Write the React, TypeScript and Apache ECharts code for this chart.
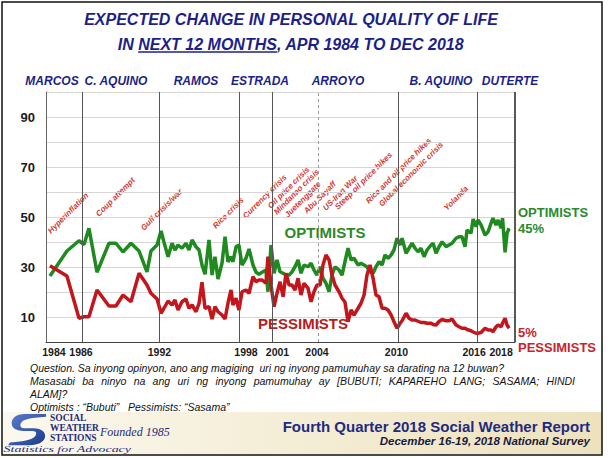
import React, { useEffect, useRef } from "react";
import * as echarts from "echarts";

// Survey dates (decimal years) and percentages
const surveyDates = [
  1984.30, 1985.58, 1986.49, 1986.87, 1987.24, 1987.85, 1988.75, 1989.28, 1989.81, 1990.41, 1991.02, 1991.62, 1991.92, 1992.38, 1992.68,
  1992.90, 1993.21, 1993.51, 1993.73, 1993.96, 1994.26, 1994.56, 1994.79, 1995.02, 1995.32, 1995.55, 1995.77, 1996.00, 1996.30, 1996.53, 1996.75, 1996.98, 1997.28, 1997.51, 1997.73, 1997.96, 1998.11, 1998.34, 1998.56, 1998.79, 1999.09, 1999.32, 1999.62, 1999.85, 2000.07, 2000.30, 2000.60, 2000.75, 2000.98, 2001.21, 2001.43, 2001.66,
  2001.89, 2002.11, 2002.34, 2002.56, 2002.79, 2003.02, 2003.24, 2003.47, 2003.77, 2004.00, 2004.22, 2004.45, 2004.68, 2004.90, 2005.13, 2005.36, 2005.58, 2005.81, 2006.11, 2006.34, 2006.56, 2006.79, 2007.02, 2007.24, 2007.55, 2007.77, 2008.00, 2008.22, 2008.45, 2008.68, 2008.90, 2009.13, 2009.36, 2009.58, 2009.81, 2010.04, 2010.26, 2010.49,
  2010.72, 2010.87, 2011.17, 2011.39, 2011.62, 2011.85, 2012.07, 2012.30, 2012.53, 2012.75, 2013.06, 2013.21, 2013.43, 2013.66, 2013.89, 2014.19, 2014.41, 2014.64, 2014.94, 2015.17, 2015.39, 2015.62, 2015.77, 2016.07, 2016.23, 2016.45, 2016.60, 2016.83, 2017.13, 2017.36, 2017.58, 2017.73, 2017.96, 2018.11, 2018.34, 2018.45, 2018.64, 2018.79, 2018.94,
];

const optimists = [
  26.4, 36.4, 40.5, 39.0, 45.5, 27.9, 39.5, 39.5, 36.0, 39.5, 36.4, 28.0, 36.4, 38.8, 44.4,
  40.0, 34.1, 39.5, 36.8, 38.8, 37.5, 39.5, 36.8, 40.8, 38.1, 36.8, 30.8, 27.1, 40.8, 26.8, 34.1, 25.2, 31.5, 42.1, 32.1, 34.1, 32.1, 38.1, 38.8, 30.8, 33.5, 37.2, 30.8, 27.9, 27.1, 27.9, 28.8, 20.1, 38.8, 27.5, 32.8, 28.1,
  27.5, 26.8, 26.8, 28.0, 30.1, 32.8, 27.5, 30.8, 30.1, 31.5, 28.8, 26.8, 30.1, 25.5, 23.5, 20.1, 26.8, 30.1, 28.8, 26.8, 32.1, 37.5, 32.8, 33.5, 30.8, 31.5, 30.8, 30.1, 28.1, 27.5, 30.1, 32.1, 30.8, 34.8, 33.5, 34.8, 36.8, 41.5,
  38.8, 41.5, 35.5, 37.5, 39.5, 37.5, 36.1, 37.5, 34.1, 36.8, 38.8, 39.5, 35.5, 38.1, 40.1, 38.1, 38.8, 39.5, 41.5, 42.1, 42.1, 38.1, 44.8, 43.5, 49.2, 46.1, 48.8, 46.8, 42.8, 44.1, 47.5, 49.5, 46.8, 48.8, 45.5, 49.5, 35.9, 43.5, 45.5,
];

const pessimists = [
  30.5, 26.4, 9.5, 10.1, 10.1, 20.8, 14.4, 14.4, 18.8, 16.1, 27.5, 22.8, 19.5, 17.2, 11.5,
  13.5, 16.4, 14.8, 16.8, 12.8, 16.1, 17.2, 13.5, 14.8, 12.1, 15.5, 23.9, 13.5, 14.1, 9.2, 14.1, 12.1, 10.8, 9.2, 15.5, 20.8, 14.8, 17.5, 12.8, 20.1, 20.8, 19.5, 26.1, 24.1, 24.8, 24.8, 23.5, 34.1, 22.8, 14.1, 19.5, 24.1,
  18.1, 27.5, 22.8, 22.8, 20.8, 25.5, 18.8, 23.5, 21.5, 16.1, 20.1, 22.8, 22.8, 30.8, 34.8, 32.8, 26.8, 22.8, 20.1, 17.5, 16.0, 8.1, 12.8, 10.8, 13.5, 15.5, 18.8, 26.8, 30.8, 25.5, 18.8, 18.1, 13.5, 13.5, 12.8, 10.8, 8.1, 5.5,
  7.5, 8.5, 11.5, 9.5, 8.8, 8.8, 8.3, 7.8, 7.8, 7.5, 7.5, 7.0, 6.8, 8.2, 9.0, 8.5, 8.5, 9.2, 6.8, 6.1, 5.5, 5.5, 5.0, 4.5, 4.0, 3.5, 3.5, 3.8, 5.5, 4.8, 4.8, 4.1, 6.1, 6.8, 6.1, 7.5, 9.5, 6.8, 5.5,
];

const tickLabels = ["1984", "1986", "1992", "1998", "2001", "2004", "2010", "2016", "2018"];
const tickPositions = [1984.6, 1986.64, 1992.56, 1999.09, 2001.47, 2004.45, 2010.45, 2016.3, 2018.34];
const yTickLabels = [10, 30, 50, 70, 90];

const presidents = ["MARCOS", "C. AQUINO", "RAMOS", "ESTRADA", "ARROYO", "B. AQUINO", "DUTERTE"];
const transitions = [1986.72, 1992.53, 1998.56, 2001.05, 2010.56, 2016.53];
const reelection = [2004.53];

const events = [
  "Hyperinflation", "Coup attempt", "Gulf crisis/war", "Rice crisis", "Currency crisis",
  "Oil price crisis", "Mindanao crisis", "Juetenggate", "Abu Sayaff", "US-Iraq War",
  "Steep oil price hikes", "Rice and oil price hikes", "Global economic crisis", "Yolanda",
];

const titleLine1 = "EXPECTED CHANGE IN PERSONAL QUALITY OF LIFE";
const titleLine2 = ["IN ", "NEXT 12 MONTHS", ", APR 1984 TO DEC 2018"];
const questionLines = [
  "Question. Sa inyong opinyon, ano ang magiging  uri ng inyong pamumuhay sa darating na 12 buwan?",
  "Masasabi ba ninyo na ang uri ng inyong pamumuhay ay [BUBUTI; KAPAREHO LANG; SASAMA; HINDI",
  "ALAM]?",
  "Optimists : \u201cBubuti\u201d   Pessimists: \u201cSasama\u201d",
];
const reportTitle = "Fourth Quarter 2018 Social Weather Report";
const reportSub = "December 16-19, 2018 National Survey";

const SANS = '"Liberation Sans", Arial, sans-serif';
const SERIF = '"Liberation Serif", "DejaVu Serif", serif';

export default function App() {
  const ref = useRef<HTMLDivElement>(null);
  useEffect(() => {
    const el = ref.current!;
    const chart = echarts.init(el, null, { renderer: "svg" });
    const ctx = document.createElement("canvas").getContext("2d")!;
    const measure = (t: string, font: string) => {
      ctx.font = font;
      return ctx.measureText(t).width;
    };

    try {
      echarts.graphic.registerShape(
        "swsLogo",
        echarts.graphic.extendPath(
          "M40 1 L18 1 C8 1 3 6 4 12 C5 17 10 19 20 19 L26 19 C30 19 31 22 28 25 C25 28 18 30 2 31 L0 34 L22 34 C34 34 40 29 39 23 C38 18 33 16 24 16 L17 16 C13 16 12 13 14 10 C16 7 22 5 40 4 Z",
          {}
        )
      );
    } catch (e) {}

    const navy = "#1c1f8a";
    const green = "#1f8a1f";
    const red = "#c2161c";
    const evRed = "#d23a3a";

    const els: any[] = [];
    const txt = (text: string, x: number, y: number, font: string, fill: string, align = "center", vAlign = "middle", extra: any = {}) => ({
      type: "text",
      x,
      y,
      ...extra,
      style: { text, font, fill, align, verticalAlign: vAlign, textAlign: align, textVerticalAlign: vAlign },
    });

    // Banner
    els.push({
      type: "rect",
      shape: { x: 3, y: 412, width: 599, height: 42 },
      style: {
        fill: new echarts.graphic.LinearGradient(0, 0, 1, 0, [
          { offset: 0, color: "#fbf8ee" },
          { offset: 1, color: "#ede2bd" },
        ]),
      },
      z: -1,
    });

    // Title
    const tFont = `italic bold 16px ${SANS}`;
    els.push(txt(titleLine1, 291, 19, tFont, navy));
    const w = titleLine2.map((s) => measure(s, tFont));
    const total = w.reduce((a, b) => a + b, 0);
    let tx = 291 - total / 2;
    titleLine2.forEach((s, i) => {
      els.push(txt(s, tx, 44, tFont, navy, "left"));
      if (i === 1) {
        els.push({ type: "line", shape: { x1: tx, y1: 52, x2: tx + w[i], y2: 52 }, style: { stroke: navy, lineWidth: 1.5 } });
      }
      tx += w[i];
    });

    // Presidents
    const presX = [52, 116, 196, 260, 338, 441, 510];
    presidents.forEach((p, i) => els.push(txt(p, presX[i], 81, `italic bold 12px ${SANS}`, navy)));

    // Event annotations
    const evPos = [
      [52, 235], [100, 218], [145, 232], [217, 230], [247, 220], [272, 210], [278, 216],
      [289, 219], [308, 215], [327, 212], [339, 211], [370, 205], [383, 208], [448, 212],
    ];
    events.forEach((e, i) =>
      els.push(txt(e, evPos[i][0], evPos[i][1], `italic bold 8px ${SANS}`, evRed, "left", "bottom", { rotation: Math.PI / 4 }))
    );

    // Series labels
    els.push(txt("OPTIMISTS", 325, 232, `bold 15px ${SANS}`, "#2b8a2b"));
    els.push(txt("PESSIMISTS", 303, 323, `bold 15px ${SANS}`, "#b81c1c"));
    els.push(txt("OPTIMISTS", 518, 212, `bold 13px ${SANS}`, "#2b8a2b", "left"));
    els.push(txt("45%", 518, 228, `bold 13px ${SANS}`, "#2b8a2b", "left"));
    els.push(txt("5%", 518, 332, `bold 13px ${SANS}`, "#c8242a", "left"));
    els.push(txt("PESSIMISTS", 518, 347, `bold 13px ${SANS}`, "#c8242a", "left"));

    // Question text
    const qFont = `italic 10.5px ${SANS}`;
    const qY = [368, 381, 394, 407];
    questionLines.forEach((q, i) => {
      if (i === 1) {
        const words = q.split(" ");
        const ww = words.map((s) => measure(s, qFont));
        const sum = ww.reduce((a, b) => a + b, 0);
        const gap = (575 - 30 - sum) / (words.length - 1);
        let x = 30;
        words.forEach((s, j) => {
          els.push(txt(s, x, qY[i], qFont, "#111", "left"));
          x += ww[j] + gap;
        });
      } else {
        els.push(txt(q, 30, qY[i], qFont, "#111", "left"));
      }
    });

    // Logo
    els.push({
      type: "swsLogo",
      x: 8,
      y: 413,
      scaleX: 0.95,
      scaleY: 0.95,
      style: {
        fill: new echarts.graphic.LinearGradient(0, 0, 1, 1, [
          { offset: 0, color: "#5b7fcc" },
          { offset: 1, color: "#1d3a8c" },
        ]),
      },
    });
    const logoFont = `bold 9.5px ${SERIF}`;
    els.push(txt("SOCIAL", 50, 418, logoFont, "#1f2a7a", "left"));
    els.push(txt("WEATHER", 50, 428, logoFont, "#1f2a7a", "left"));
    els.push(txt("STATIONS", 50, 438, logoFont, "#1f2a7a", "left"));
    els.push(txt("Founded 1985", 100, 432, `italic 12px ${SERIF}`, "#1f2a7a", "left"));
    els.push(txt("Statistics for Advocacy", 8, 449, `italic 9px ${SERIF}`, "#1f2a7a", "left", "middle", { scaleX: 1.55, originX: 8, originY: 449 }));

    els.push(txt(reportTitle, 590, 426, `bold 15px ${SANS}`, "#1f2a80", "right"));
    els.push(txt(reportSub, 590, 441, `italic bold 11.5px ${SANS}`, "#1a1a3a", "right"));

    // Outer border
    els.push({
      type: "rect",
      shape: { x: 2, y: 2, width: 600, height: 453 },
      style: { fill: "none", stroke: "#111", lineWidth: 1.5 },
      z: 100,
    });

    const option: any = {
      animation: false,
      backgroundColor: "#fff",
      grid: { left: 46, right: 96, top: 92, bottom: 116, containLabel: false },
      xAxis: {
        type: "value",
        min: 1984.0,
        max: 2019.39,
        axisLine: { show: true, lineStyle: { color: "#444", width: 1 } },
        axisTick: { show: false },
        splitLine: { show: false },
        axisLabel: {
          customValues: tickPositions,
          formatter: (v: number) => {
            let best = 0;
            tickPositions.forEach((p, i) => {
              if (Math.abs(p - v) < Math.abs(tickPositions[best] - v)) best = i;
            });
            return tickLabels[best];
          },
          color: "#1a1a1a",
          fontWeight: "bold",
          fontSize: 10.5,
          fontFamily: SANS,
          margin: 4,
          showMinLabel: true,
          showMaxLabel: true,
        },
      },
      yAxis: {
        type: "value",
        min: 0,
        max: 100,
        interval: 10,
        axisLine: { show: true, lineStyle: { color: "#666", width: 1 } },
        axisTick: { show: false },
        splitLine: { show: true, lineStyle: { color: "#d6d6d6", width: 1 } },
        axisLabel: {
          formatter: (v: number) => (yTickLabels.indexOf(v) >= 0 ? String(v) : ""),
          color: "#1a1a1a",
          fontWeight: "bold",
          fontSize: 13,
          fontFamily: SANS,
          margin: 11,
        },
      },
      series: [
        {
          type: "line",
          data: [],
          z: 1,
          silent: true,
          markLine: {
            silent: true,
            symbol: ["none", "none"],
            label: { show: false },
            data: [
              ...transitions.map((x) => ({ xAxis: x, lineStyle: { color: "#555", width: 1, type: "solid" } })),
              ...reelection.map((x) => ({ xAxis: x, lineStyle: { color: "#999", width: 1, type: [3, 3] } })),
              { xAxis: 2019.39, lineStyle: { color: "#222", width: 1.5, type: "solid" } },
            ],
          },
        },
        {
          name: "Optimists",
          type: "line",
          z: 3,
          showSymbol: false,
          symbol: "none",
          data: surveyDates.map((d, i) => [d, optimists[i]]),
          lineStyle: { color: green, width: 3.5 },
          itemStyle: { color: green },
        },
        {
          name: "Pessimists",
          type: "line",
          z: 3,
          showSymbol: false,
          symbol: "none",
          data: surveyDates.map((d, i) => [d, pessimists[i]]),
          lineStyle: { color: red, width: 3.5 },
          itemStyle: { color: red },
        },
      ],
      graphic: { elements: els },
    };
    chart.setOption(option);
    return () => chart.dispose();
  }, []);
  return <div ref={ref} style={{ position: "fixed", left: 0, top: 0, width: 611, height: 458, background: "#fff" }} />;
}
